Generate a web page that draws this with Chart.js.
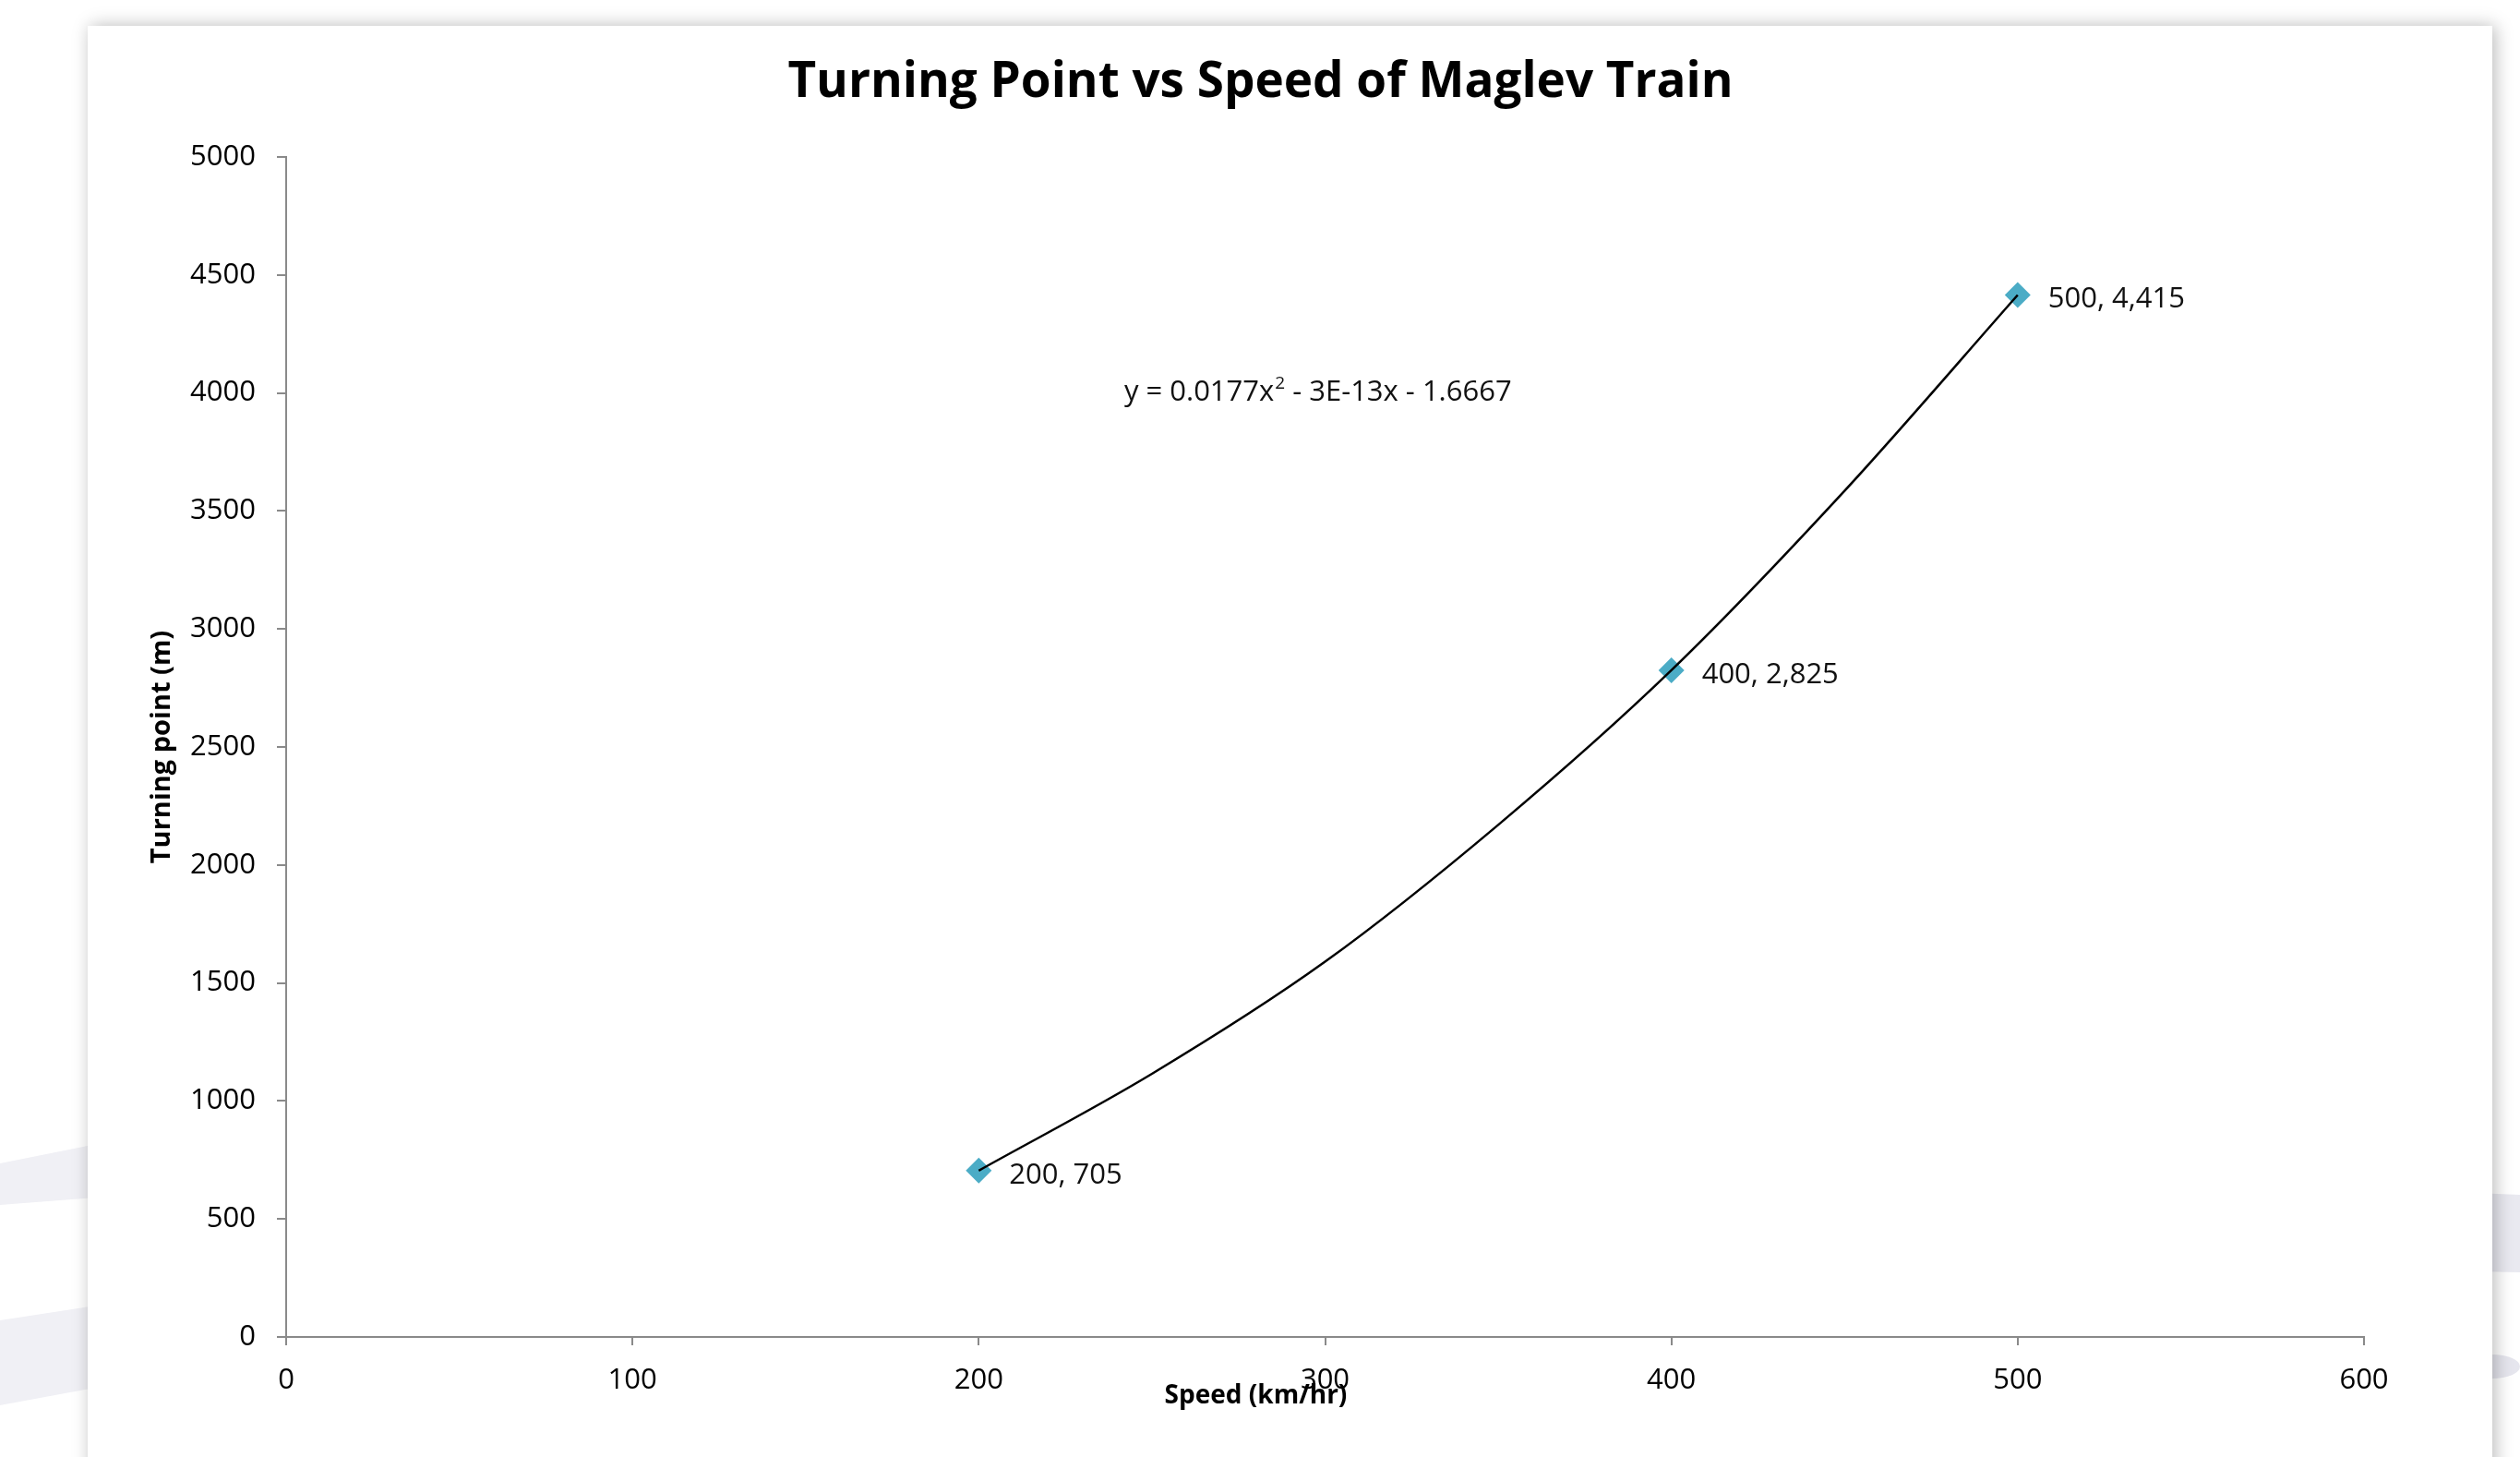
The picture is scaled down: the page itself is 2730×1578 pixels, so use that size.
<!DOCTYPE html>
<html>
<head>
<meta charset="utf-8">
<title>Turning Point vs Speed of Maglev Train</title>
<script src="https://cdn.jsdelivr.net/npm/chart.js@4.4.1/dist/chart.umd.min.js"></script>
<style>
  html, body { margin: 0; padding: 0; background: #ffffff; width: 2730px; height: 1578px; overflow: hidden; }
  #bg { position: absolute; left: 0; top: 0; }
  #card {
    position: absolute; left: 95px; top: 28px; width: 2605px; height: 1620px;
    background: #ffffff; box-shadow: 3px 0 18px rgba(0, 0, 0, 0.28);
  }
  #wrap { position: absolute; left: 0; top: 0; width: 2605px; height: 1550px; }
</style>
</head>
<body>
<!-- decorative slide stripes behind the chart card -->
<svg id="bg" width="2730" height="1578">
  <polygon points="0,1260 130,1234 130,1295 0,1305" fill="#f0f0f5"/>
  <polygon points="0,1430 130,1410 130,1498 0,1522" fill="#f0f0f5"/>
  <polygon points="2680,1292 2730,1294 2730,1378 2680,1377" fill="#e9e9f0"/>
  <ellipse cx="2700" cy="1480" rx="30" ry="13" fill="#e6e6ee"/>
</svg>
<div id="card"><div id="wrap"><canvas id="c" width="2605" height="1550"></canvas></div></div>

<script>
// Measured points
const speeds = [200, 400, 500];            // km/hr
const turningPoints = [705, 2825, 4415];   // m

// Polynomial trendline as drawn through the range of the data
const trendSpeeds = [200, 250, 300, 350, 400, 450, 500];
const trendValues = [705, 1115, 1590, 2170, 2825, 3585, 4415];

// Axis ranges / ticks
const xRange = [0, 600];
const xStep = 100;
const yRange = [0, 5000];
const yStep = 500;

// Texts
const chartTitle = 'Turning Point vs Speed of Maglev Train';
const xTitle = 'Speed (km/hr)';
const yTitle = 'Turning point (m)';
const equationParts = ['y = 0.0177x', '2', ' - 3E-13x - 1.6667'];
const equationAnchor = [242, 4010];   // in axis units
const xTitleAnchor = 280;             // horizontal centre of the x-axis caption, in axis units

const FONT = "'Open Sans', 'Liberation Sans', sans-serif";
const AXIS_GREY = '#8a8a8a';
const MARKER = '#4bacc6';

const pointData = speeds.map((s, i) => ({ x: s, y: turningPoints[i] }));
const trendData = trendSpeeds.map((s, i) => ({ x: s, y: trendValues[i] }));

// Writes "x, y" next to each marker
const pointLabels = {
  id: 'pointLabels',
  afterDatasetsDraw(chart) {
    const meta = chart.getDatasetMeta(1);
    const ctx = chart.ctx;
    ctx.save();
    ctx.font = '31px ' + FONT;
    ctx.fillStyle = '#111';
    ctx.textAlign = 'left';
    ctx.textBaseline = 'middle';
    meta.data.forEach((el, i) => {
      const txt = speeds[i] + ', ' + turningPoints[i].toLocaleString('en-US');
      ctx.fillText(txt, el.x + 33, el.y + 5);
    });
    ctx.restore();
  }
};

// Trendline equation with superscript exponent
const trendEquation = {
  id: 'trendEquation',
  afterDatasetsDraw(chart) {
    const ctx = chart.ctx;
    const x0 = chart.scales.x.getPixelForValue(equationAnchor[0]);
    const y0 = chart.scales.y.getPixelForValue(equationAnchor[1]);
    ctx.save();
    ctx.fillStyle = '#111';
    ctx.textAlign = 'left';
    ctx.textBaseline = 'alphabetic';
    const base = y0 + 11;
    ctx.font = '31px ' + FONT;
    ctx.fillText(equationParts[0], x0, base);
    let x = x0 + ctx.measureText(equationParts[0]).width + 1;
    ctx.font = '19px ' + FONT;
    ctx.fillText(equationParts[1], x, base - 13);
    x += ctx.measureText(equationParts[1]).width;
    ctx.font = '31px ' + FONT;
    ctx.fillText(equationParts[2], x, base);
    ctx.restore();
  }
};

// Caption under the x axis, centred on a chosen axis value
const xCaption = {
  id: 'xCaption',
  afterDraw(chart) {
    const ctx = chart.ctx;
    const xs = chart.scales.x;
    ctx.save();
    ctx.font = 'bold 28px ' + FONT;
    ctx.fillStyle = '#000';
    ctx.textAlign = 'center';
    ctx.textBaseline = 'middle';
    ctx.fillText(xTitle, xs.getPixelForValue(xTitleAnchor), xs.bottom - 66);
    ctx.restore();
  }
};

function build() {
  const ctx = document.getElementById('c').getContext('2d');
  new Chart(ctx, {
    type: 'scatter',
    data: {
      datasets: [
        {
          label: 'Poly. trend',
          data: trendData,
          showLine: true,
          borderColor: '#000',
          borderWidth: 2.5,
          pointRadius: 0,
          pointHoverRadius: 0,
          cubicInterpolationMode: 'monotone',
          fill: false
        },
        {
          label: 'Turning point',
          data: pointData,
          pointStyle: 'rectRot',
          pointRadius: 14,
          pointHoverRadius: 14,
          backgroundColor: MARKER,
          borderColor: MARKER,
          borderWidth: 0
        }
      ]
    },
    options: {
      responsive: false,
      animation: false,
      events: [],
      layout: { padding: { left: 0, right: 64, top: 0, bottom: 0 } },
      plugins: {
        legend: { display: false },
        tooltip: { enabled: false },
        title: {
          display: true,
          text: chartTitle,
          color: '#000',
          font: { family: FONT, size: 53, weight: 'bold', lineHeight: 1.2 },
          padding: { top: 30, bottom: 48.4 }
        }
      },
      scales: {
        x: {
          type: 'linear',
          min: xRange[0],
          max: xRange[1],
          afterFit(scale) { scale.height = 130; },
          ticks: {
            stepSize: xStep,
            color: '#000',
            padding: 20,
            maxRotation: 0,
            font: { family: FONT, size: 31 },
            callback: v => String(v)
          },
          grid: { drawOnChartArea: false, drawTicks: true, tickLength: 9, color: AXIS_GREY, lineWidth: 2 },
          border: { display: true, color: AXIS_GREY, width: 2 },
          title: { display: false }
        },
        y: {
          type: 'linear',
          min: yRange[0],
          max: yRange[1],
          afterFit(scale) { scale.width = 215; },
          ticks: {
            stepSize: yStep,
            color: '#000',
            padding: 23,
            font: { family: FONT, size: 31 },
            callback: v => String(v)
          },
          grid: { drawOnChartArea: false, drawTicks: true, tickLength: 10, color: AXIS_GREY, lineWidth: 2 },
          border: { display: true, color: AXIS_GREY, width: 2 },
          title: {
            display: true,
            text: yTitle,
            color: '#000',
            font: { family: FONT, size: 29, weight: 'bold', lineHeight: 1.2 },
            padding: { top: 63, bottom: 0 }
          }
        },
        // empty right-hand margin so the plot ends short of the title block edge
        yRightMargin: {
          type: 'linear',
          position: 'right',
          display: true,
          afterFit(scale) { scale.width = 75; },
          ticks: { display: false },
          grid: { display: false, drawTicks: false },
          border: { display: false }
        }
      }
    },
    plugins: [pointLabels, trendEquation, xCaption]
  });
}

if (document.fonts && document.fonts.load) {
  Promise.all([
    document.fonts.load("bold 53px 'Open Sans'"),
    document.fonts.load("30px 'Open Sans'")
  ]).then(build, build);
} else {
  build();
}
</script>
</body>
</html>
